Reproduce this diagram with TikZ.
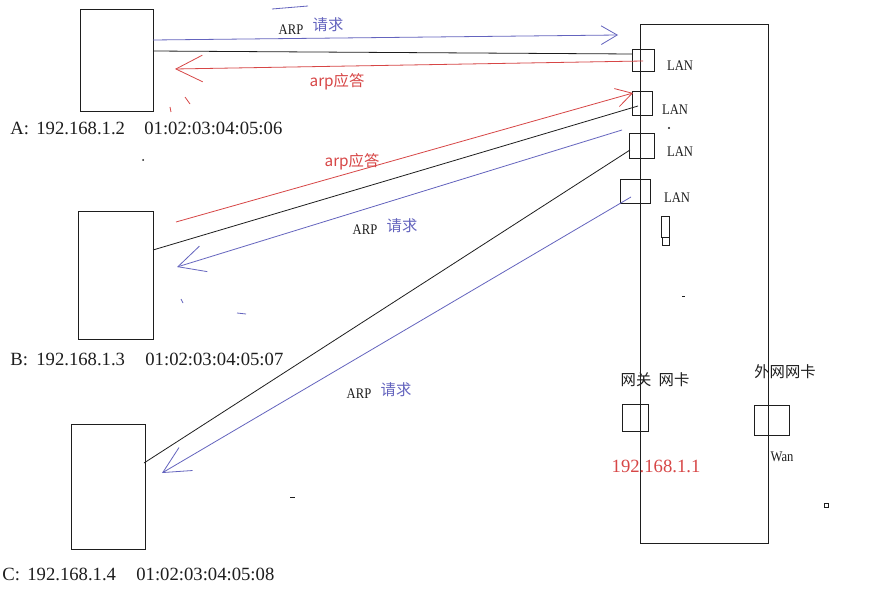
\documentclass[tikz,border=0pt]{standalone}
\usepackage{fontspec}
\setmainfont{Liberation Serif}
\newfontfamily\cjk{Noto Sans CJK SC}
\newfontfamily\narrowserif[FakeStretch=0.86]{Liberation Serif}
\usetikzlibrary{arrows.meta,fit}
\definecolor{arpblue}{RGB}{100,100,190}
\definecolor{arpred}{RGB}{215,70,70}
\definecolor{ink}{RGB}{30,30,30}
\begin{document}
\begin{tikzpicture}[x=0.75pt,y=-0.75pt,
  line width=0.6pt,
  box/.style={draw=ink, line width=0.7pt, inner sep=0pt},
  wire/.style={draw=ink},
  req/.style={draw=arpblue},
  rep/.style={draw=arpred},
  bigtip/.style={-{Straight Barb[length=20pt,width=20pt]}},
  smalltip/.style={-{Straight Barb[length=12pt,width=14pt]}},
  lat/.style={font=\narrowserif\fontsize{11}{13}\selectfont, text=ink, inner sep=0pt},
  addr/.style={font=\fontsize{14}{16}\selectfont, text=ink, inner sep=0pt, anchor=west},
  zh/.style={font=\cjk\fontsize{11.5}{13}\selectfont, inner sep=0pt},
  stray/.style={line width=0.6pt}
]
\useasboundingbox (0,0) rectangle (885,599);
\fill[white] (0,0) rectangle (885,599);

% hosts
\node[box, fit={(80,9)(153,111)}] (A) {};
\node[box, fit={(78,211)(153,339)}] (B) {};
\node[box, fit={(71,424)(145,549)}] (C) {};

% router
\node[box, fit={(640,24)(768,543)}] (R) {};
\node[box, fit={(632,49)(654,71)}] (lan1) {};
\node[box, fit={(632,91)(652,115)}] (lan2) {};
\node[box, fit={(629,133)(654,158)}] (lan3) {};
\node[box, fit={(620,179)(650,203)}] (lan4) {};
\node[box, fit={(661,216)(669,237)}] (ex1) {};
\node[box, fit={(662,237)(669,245)}] (ex2) {};
\node[box, fit={(622,404)(648,431)}] (gw) {};
\node[box, fit={(754,405)(789,435)}] (wan) {};
\node[box, fit={(824,503)(828,507)}] (sq) {};

% endpoints
\coordinate (a1) at (153,40);  \coordinate (a1t) at (618,35);
\coordinate (a2) at (153,51);  \coordinate (a2e) at (632,54);
\coordinate (a3) at (643,61);  \coordinate (a3t) at (175,69);
\coordinate (b1) at (176,222); \coordinate (b1t) at (633,93);
\coordinate (b2) at (153,250); \coordinate (b2e) at (638,106);
\coordinate (b3) at (622,130); \coordinate (b3t) at (177,267);
\coordinate (c1) at (144,463); \coordinate (c1e) at (630,150);
\coordinate (c2) at (631,197); \coordinate (c2t) at (162,473);

% connectors
\draw[req,smalltip] (a1) -- (a1t);
\draw[wire] (a2) -- (a2e);
\draw[rep,bigtip] (a3) -- (a3t);
\draw[rep,smalltip] (b1) -- (b1t);
\draw[wire] (b2) -- (b2e);
\draw[req,bigtip] (b3) -- (b3t);
\draw[wire] (c1) -- (c1e);
\draw[req,bigtip] (c2) -- (c2t);

% stray marks
\draw[arpblue,stray] (272,9) -- (308,6);
\draw[arpred,stray] (185,97) -- (190,104);
\draw[arpred,stray] (170,107) -- (171,112);
\draw[arpblue,stray] (181,299) -- (183,303);
\draw[arpblue,stray] (237,313) -- (246,314);
\draw[ink,stray] (290,497) -- (295,497);
\fill[ink] (143,160) circle (1);
\fill[ink] (669,128) circle (1.2);
\draw[ink,stray] (682,296) -- (685,296);

% labels
\node[lat] (tA1) at (291,30) {ARP};
\node[zh,text=arpblue] (tA2) at (328,25) {请求};
\node[zh,text=arpred] (tA3) at (337,82) {arp应答};
\node[zh,text=arpred] (tB1) at (352,162) {arp应答};
\node[lat] (tB2) at (365,230) {ARP};
\node[zh,text=arpblue] (tB3) at (402,226) {请求};
\node[lat] (tC1) at (359,394) {ARP};
\node[zh,text=arpblue] (tC2) at (396,390) {请求};

\node[lat] (l1) at (680,66) {LAN};
\node[lat] (l2) at (675,110) {LAN};
\node[lat] (l3) at (680,152) {LAN};
\node[lat] (l4) at (677,198) {LAN};

\node[zh,text=ink] (g1) at (636,380) {网关};
\node[zh,text=ink] (g2) at (674,380) {网卡};
\node[zh,text=ink] (w1) at (785,372) {外网网卡};
\node[addr,anchor=center,text=arpred] (ip) at (656,466) {192.168.1.1};
\node[lat] (wl) at (782,457) {Wan};

\node[addr] (labA) at (10,128) {\makebox[19.5pt][l]{A:}\makebox[81pt][l]{192.168.1.2}01:02:03:04:05:06};
\node[addr] (labB) at (10,359) {\makebox[19.5pt][l]{B:}\makebox[81.75pt][l]{192.168.1.3}01:02:03:04:05:07};
\node[addr] (labC) at (2,574) {\makebox[18.75pt][l]{C:}\makebox[81.75pt][l]{192.168.1.4}01:02:03:04:05:08};
\end{tikzpicture}
\end{document}
